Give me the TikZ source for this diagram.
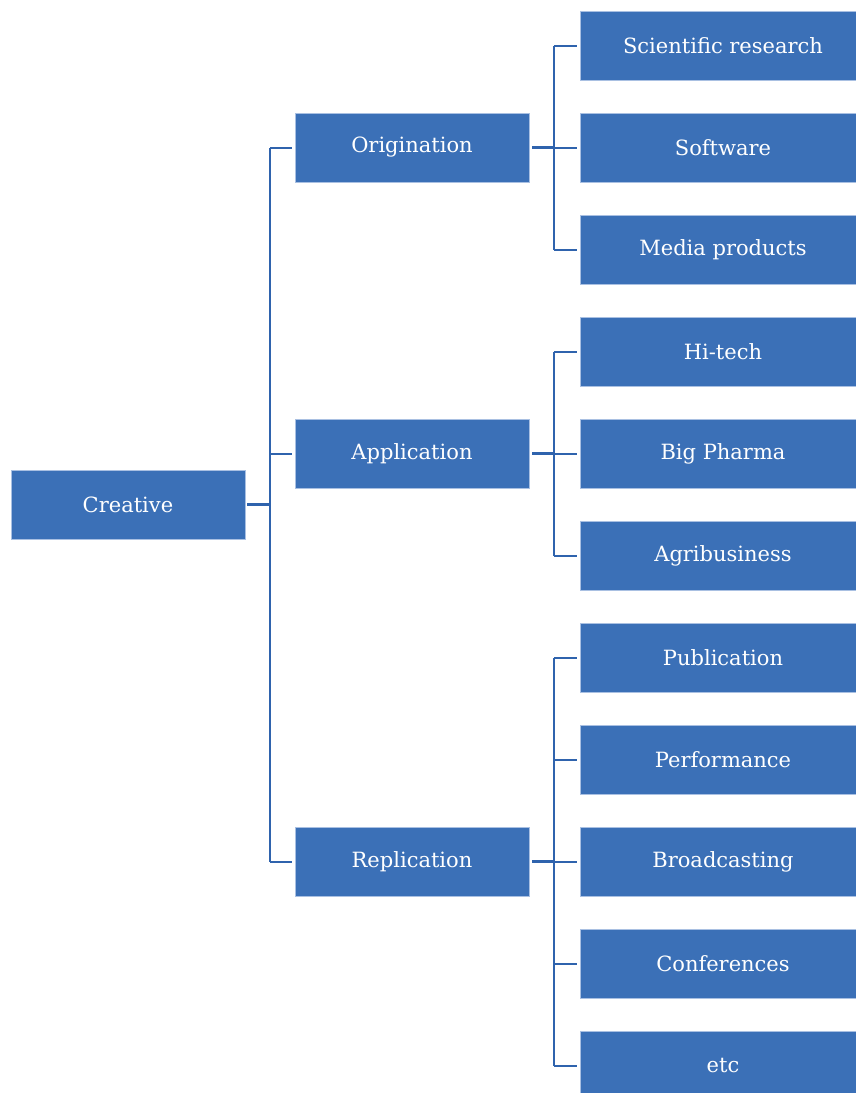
\documentclass[tikz,border=0pt]{standalone}
\usepackage{fontspec}
\setmainfont{DejaVu Serif}
\definecolor{boxblue}{HTML}{3B70B7}
\definecolor{boxedge}{HTML}{A9C0E2}
\definecolor{linkblue}{HTML}{2F63AD}
\begin{document}
\begin{tikzpicture}[x=1pt,y=-1pt,
  box/.style={draw=boxedge,line width=0.8pt,fill=boxblue,text=white,inner sep=0pt,
    font=\fontsize{21}{25}\selectfont},
  lvlone/.style={box,minimum width=234pt,minimum height=69pt},
  lvlthree/.style={box,minimum width=286pt,minimum height=69pt},
  thin/.style={draw=linkblue,line width=2pt},
  thick/.style={draw=linkblue,line width=3pt}]
\useasboundingbox (0,0) rectangle (856,1093);
\begin{scope}
\clip (0,0) rectangle (856,1093);
\node[lvlone] (cre) at (128,504.5) {Creative};
\node[lvlone] (ori) at (412,147.5) {Origination};
\node[lvlone] (app) at (412,453.5) {Application};
\node[lvlone] (rep) at (412,861.5) {Replication};
\node[lvlthree] (s1) at (723,46) {Scientific research};
\node[lvlthree] (s2) at (723,148) {Software};
\node[lvlthree] (s3) at (723,249.5) {Media products};
\node[lvlthree] (a1) at (723,352) {Hi-tech};
\node[lvlthree] (a2) at (723,453.5) {Big Pharma};
\node[lvlthree] (a3) at (723,555.5) {Agribusiness};
\node[lvlthree] (r1) at (723,657.5) {Publication};
\node[lvlthree] (r2) at (723,759.5) {Performance};
\node[lvlthree] (r3) at (723,861.5) {Broadcasting};
\node[lvlthree] (r4) at (723,963.5) {Conferences};
\node[lvlthree] (r5) at (723,1065.5) {etc};
\end{scope}
% level 1 -> level 2
\draw[thick] ([xshift=2pt]cre.east) -- ([xshift=26pt]cre.east);
\draw[thin] ([xshift=25pt]cre.east |- ori.west) -- ([xshift=25pt]cre.east |- rep.west);
\foreach \n in {ori,app,rep}
  \draw[thin] ([xshift=25pt]cre.east |- \n.west) -- ([xshift=-2.5pt]\n.west);
% level 2 -> level 3
\foreach \p/\first/\last/\kids in {ori/s1/s3/{s1,s2,s3},app/a1/a3/{a1,a2,a3},rep/r1/r5/{r1,r2,r3,r4,r5}}{
  \draw[thick] ([xshift=3pt]\p.east) -- ([xshift=26pt]\p.east);
  \draw[thin] ([xshift=25pt]\p.east |- \first.west) -- ([xshift=25pt]\p.east |- \last.west);
  \foreach \k in \kids
    \draw[thin] ([xshift=25pt]\p.east |- \k.west) -- ([xshift=-2.5pt]\k.west);
}
\end{tikzpicture}
\end{document}
